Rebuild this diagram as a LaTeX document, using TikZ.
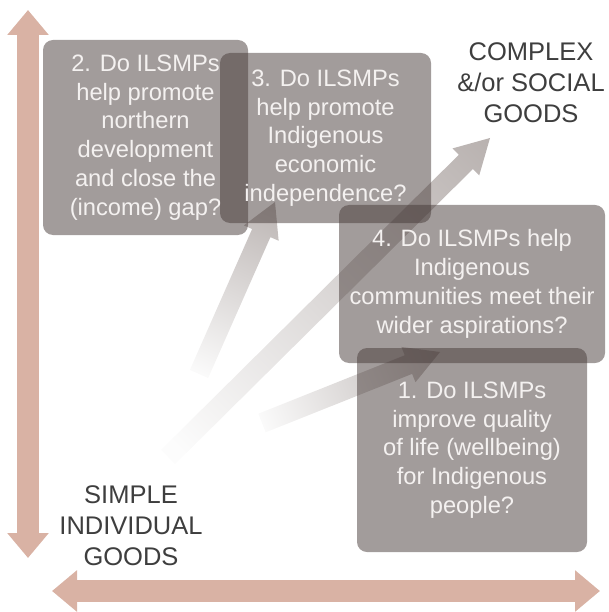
\documentclass[tikz,border=0pt]{standalone}
\usepackage{fontspec}
\setmainfont{Liberation Sans}
\usetikzlibrary{arrows.meta,calc}
\definecolor{axiscol}{RGB}{217,178,164}
\definecolor{boxcol}{RGB}{70,58,56}
\definecolor{boxtext}{RGB}{244,241,240}
\definecolor{labelcol}{RGB}{62,62,62}
\definecolor{arrowgray}{RGB}{184,177,175}
\definecolor{arrowpale}{RGB}{252,252,252}
\pgfdeclareverticalshading{fadeaxis}{100bp}{color(0bp)=(arrowgray); color(14bp)=(arrowgray); color(82bp)=(arrowpale); color(100bp)=(white)}
\newcommand\fadedarrow[3]{%
  \coordinate (#1-base) at ($(#2)!34pt!(#1)$);
  \path[fadearrow, shading angle=#3]
    ($(#1)!10pt!90:(#2)$) -- ($(#1-base)!10pt!90:(#2)$) -- ($(#1-base)!19pt!90:(#2)$)
    -- (#2) -- ($(#1-base)!19pt!-90:(#2)$) -- ($(#1-base)!10pt!-90:(#2)$)
    -- ($(#1)!10pt!-90:(#2)$) -- cycle;
}
\begin{document}
\begin{tikzpicture}[x=1pt,y=-1pt,
  axisarrow/.style={draw=axiscol, line width=22pt,
    {Triangle[width=40pt,length=25pt]}-{Triangle[width=40pt,length=25pt]}},
  qbox/.style={rounded corners=10pt, fill=boxcol, fill opacity=0.5, text opacity=1,
    text=boxtext, align=center, font=\fontsize{23.7}{28.8}\selectfont, inner sep=0pt},
  cornerlabel/.style={text=labelcol, align=center, font=\fontsize{25.5}{31}\selectfont, inner sep=0pt},
  fadearrow/.style={shading=fadeaxis, draw=none}
]
\useasboundingbox (0,0) rectangle (608,612);

% axes
\coordinate (vtop) at (28,10);
\coordinate (vbot) at (28,558);
\coordinate (hleft) at (52,591);
\coordinate (hright) at (600,591);
\draw[axisarrow] (vtop) -- (vbot);
\draw[axisarrow] (hleft) -- (hright);

% faded arrows
\coordinate (tailA) at (199,374);
\coordinate (tipA) at (275,202);
\coordinate (tailB) at (168,457);
\coordinate (tipB) at (490,138);
\coordinate (tailC) at (262,423);
\coordinate (tipC) at (440,352);
\fadedarrow{tailA}{tipA}{156}
\fadedarrow{tailB}{tipB}{135}
\fadedarrow{tailC}{tipC}{112}

% question boxes
\node[qbox, minimum width=205pt, minimum height=195pt] (q2) at (145.5,137.5)
  {2. Do ILSMPs\\help promote\\northern\\development\\and close the\\(income) gap?};
\node[qbox, minimum width=211pt, minimum height=170pt] (q3) at (325.5,138)
  {3. Do ILSMPs\\help promote\\Indigenous\\economic\\independence?};
\node[qbox, minimum width=266pt, minimum height=158pt] (q4) at (472,284)
  {4. Do ILSMPs help\\Indigenous\\communities meet their\\wider aspirations?};
\node[qbox, minimum width=230pt, minimum height=204pt] (q1) at (472,450)
  {1. Do ILSMPs\\improve quality\\of life (wellbeing)\\for Indigenous\\people?};

% corner labels
\node[cornerlabel] (complex) at (531,82.5) {COMPLEX\\\&/or SOCIAL\\GOODS};
\node[cornerlabel] (simple) at (131,526) {SIMPLE\\INDIVIDUAL\\GOODS};
\end{tikzpicture}
\end{document}
